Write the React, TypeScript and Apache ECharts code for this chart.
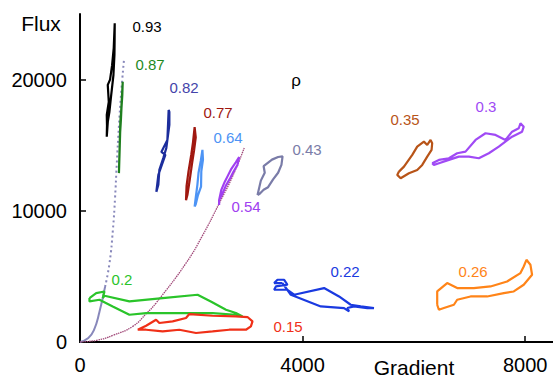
import React, { useEffect, useRef } from "react";
import * as echarts from "echarts";

// [gradient, flux] loops for each rho value
const rho093 = [[481,15650],[485,16500],[481,17300],[517,18300],[499,19600],[540,20000],[577,21100],[606,22400],[624,24290],[622,23000],[619,21900],[601,20350],[560,18800],[529,17550],[500,16800],[481,15650]];
const rho087 = [[700,12870],[705,13800],[712,14800],[718,15800],[725,16800],[740,17600],[752,18600],[768,19840],[760,18800],[745,17800],[735,16900],[722,16000],[715,15000],[708,14000],[700,12870]];
const rho082 = [[1372,11446],[1408,12740],[1534,14262],[1462,14490],[1570,15400],[1593,17685],[1606,17533],[1606,16545],[1552,14795],[1498,14033],[1426,13120],[1408,11980],[1372,11446]];
const rho077 = [[1905,10810],[1915,11900],[1950,13000],[2000,14300],[2030,15200],[2060,16370],[2080,15600],[2050,14600],[2010,13500],[1970,12300],[1930,11200],[1905,10810]];
const rho064 = [[2060,10320],[2080,11000],[2110,12000],[2130,12900],[2170,13800],[2200,14640],[2210,13900],[2180,13000],[2175,11850],[2120,11200],[2080,10500],[2060,10320]];
const rho054 = [[2500,10450],[2500,10800],[2540,11600],[2600,12200],[2660,12700],[2720,13200],[2800,13700],[2860,14100],[2830,13500],[2760,13000],[2700,12500],[2620,11900],[2560,11300],[2500,10800]];
const rho043 = [[3190,11200],[3250,12300],[3320,12900],[3300,13400],[3450,13900],[3560,14100],[3640,14150],[3620,13500],[3560,12900],[3470,12400],[3380,11800],[3300,11600],[3230,11300],[3190,11200]];
const rho035 = [[5732,12988],[5822,13369],[5971,14259],[6060,14891],[6180,15272],[6240,15021],[6300,15401],[6329,15150],[6318,14640],[6240,14130],[6150,13498],[6060,13117],[5911,12866],[5762,12485],[5701,12737],[5732,12988]];
const rho030 = [[6329,13627],[6450,13879],[6629,14008],[6778,14389],[6928,14510],[7108,15401],[7287,15911],[7467,15782],[7646,15401],[7765,16033],[7885,16292],[7915,16673],[7974,16414],[7944,16033],[7765,15652],[7526,14891],[7347,14389],[7167,14008],[6988,14130],[6808,14130],[6629,13879],[6450,13627],[6360,13498],[6329,13627]];
const rho026 = [[6419,2840],[6419,3852],[6598,4492],[6778,4111],[7077,4111],[7377,4233],[7675,4614],[7915,5253],[7974,5756],[8023,6265],[8094,5885],[8124,5123],[7974,4362],[7795,3852],[7616,3730],[7316,3471],[7018,3471],[6778,3220],[6719,2840],[6539,2588],[6449,2459],[6419,2840]];
const rho022 = [[3638,4492],[3789,3601],[4327,2710],[4745,2588],[4835,2330],[4804,2588],[4925,2710],[5163,2588],[5283,2588],[5045,2710],[4865,2840],[4655,3471],[4386,4111],[3848,3601],[3728,3982],[3489,3982],[3520,4233],[3728,4362],[3669,4743],[3549,4743],[3489,4492],[3638,4492]];
const rho020 = [[170,3350],[291,3730],[440,3852],[409,3350],[440,3525],[888,3091],[1485,3350],[2113,3601],[2359,3068],[2623,2459],[2802,2208],[2921,1949],[2802,2078],[2382,2208],[1785,2208],[1188,2208],[888,2078],[588,2710],[350,3220],[170,3091],[170,3350]];
const rho015 = [[1037,936],[1188,1241],[1367,1698],[1426,1446],[1665,1568],[1905,1827],[1964,2132],[2382,2002],[2802,1949],[3010,1903],[3100,1568],[3071,1188],[2982,936],[2682,936],[2382,807],[2085,685],[1785,936],[1485,807],[1188,936],[1037,936]];

// reference curves: lower (solid) and upper (dotted) part of the steep one, and the parabola
const steepLower = [[0,0],[150,300],[250,900],[350,2300],[450,4200]];
const steepUpper = [[450,4200],[530,6000],[590,8500],[630,11000],[660,13500],[700,16500],[740,19000],[790,21500]];
const parabolaCurve = [[0,0],[300,130],[600,520],[947,1190],[1200,2200],[1367,2970],[1905,6010],[2200,8100],[2503,10580],[2750,12700],[2951,14790]];

const loopNames = ["0.93","0.87","0.82","0.77","0.64","0.54","0.43","0.35","0.3","0.26","0.22","0.2","0.15"];
const loopData = [rho093,rho087,rho082,rho077,rho064,rho054,rho043,rho035,rho030,rho026,rho022,rho020,rho015];
const loopColors = ["#000000","#1f7f1f","#1c2d9c","#a01810","#4d94f5","#a040f0","#7a7ca8","#b85418","#a04af5","#ff8418","#1a3ae0","#2ac42a","#f03018"];
const labelColors = ["#000000","#1f8a1f","#4444aa","#a01810","#4d94f5","#a040f0","#7a7ca8","#b85418","#a04af5","#ff8418","#1a3ae0","#2ac42a","#f03018"];
const labelPos = [[147,26],[150,64],[184,87],[218,112],[228,137],[246,206],[307,149],[405,119],[486,106],[473,271],[345,271],[122,279],[288,326]];

const xTicks = [0, 4000, 8000];
const yTicks = [0, 10000, 20000];

const FONT = "Liberation Sans, Arial, Helvetica, sans-serif";

export default function App() {
  const ref = useRef<HTMLDivElement>(null);
  useEffect(() => {
    if (!ref.current) return;
    const chart = echarts.init(ref.current, null, { renderer: "svg" });
    const series: any[] = loopData.map((d, i) => ({
      name: loopNames[i],
      type: "line",
      data: d,
      showSymbol: false,
      symbol: "none",
      lineStyle: { color: loopColors[i], width: 2.2 },
      z: 3,
    }));
    series.push({
      type: "line",
      data: steepLower,
      showSymbol: false,
      symbol: "none",
      smooth: true,
      lineStyle: { color: "#8888bb", width: 2 },
      z: 2,
    });
    series.push({
      type: "line",
      data: steepUpper,
      showSymbol: false,
      symbol: "none",
      smooth: true,
      lineStyle: { color: "#8888bb", width: 2, type: [2, 3] },
      z: 2,
    });
    series.push({
      type: "line",
      data: parabolaCurve,
      showSymbol: false,
      symbol: "none",
      smooth: true,
      lineStyle: { color: "#a04878", width: 1.3, type: [1.5, 0.8] },
      z: 2,
    });
    const graphics: any[] = loopNames.map((n, i) => ({
      type: "text",
      x: labelPos[i][0],
      y: labelPos[i][1],
      style: {
        text: n,
        fill: labelColors[i],
        font: `15px ${FONT}`,
        textAlign: "center",
        textVerticalAlign: "middle",
      },
    }));
    graphics.push(
      { type: "text", x: 41, y: 23, style: { text: "Flux", fill: "#000", font: `21px ${FONT}`, textAlign: "center", textVerticalAlign: "middle" } },
      { type: "text", x: 414, y: 367, style: { text: "Gradient", fill: "#000", font: `21px ${FONT}`, textAlign: "center", textVerticalAlign: "middle" } },
      { type: "text", x: 296, y: 80, style: { text: "ρ", fill: "#000", font: `17px ${FONT}`, textAlign: "center", textVerticalAlign: "middle" } }
    );
    const fmt = (v: number) => String(v);
    chart.setOption({
      animation: false,
      backgroundColor: "#ffffff",
      grid: { left: 80, top: 14, width: 474, height: 328, containLabel: false },
      xAxis: {
        type: "value",
        min: 0,
        max: 8500,
        splitLine: { show: false },
        axisLine: { show: true, lineStyle: { color: "#000", width: 2 } },
        axisTick: { show: true, inside: true, length: 6, lineStyle: { color: "#000", width: 1.5 }, customValues: xTicks },
        axisLabel: { color: "#000", fontSize: 20, fontFamily: FONT, margin: 13, customValues: xTicks, formatter: fmt },
      },
      yAxis: {
        type: "value",
        min: 0,
        max: 25000,
        splitLine: { show: false },
        axisLine: { show: true, lineStyle: { color: "#000", width: 2 } },
        axisTick: { show: true, inside: true, length: 6, lineStyle: { color: "#000", width: 1.5 }, customValues: yTicks },
        axisLabel: { color: "#000", fontSize: 20, fontFamily: FONT, margin: 13, customValues: yTicks, formatter: fmt },
      },
      series,
      graphic: graphics,
    });
    return () => chart.dispose();
  }, []);
  return <div ref={ref} style={{ position: "absolute", left: 0, top: 0, width: 553, height: 377 }} />;
}
